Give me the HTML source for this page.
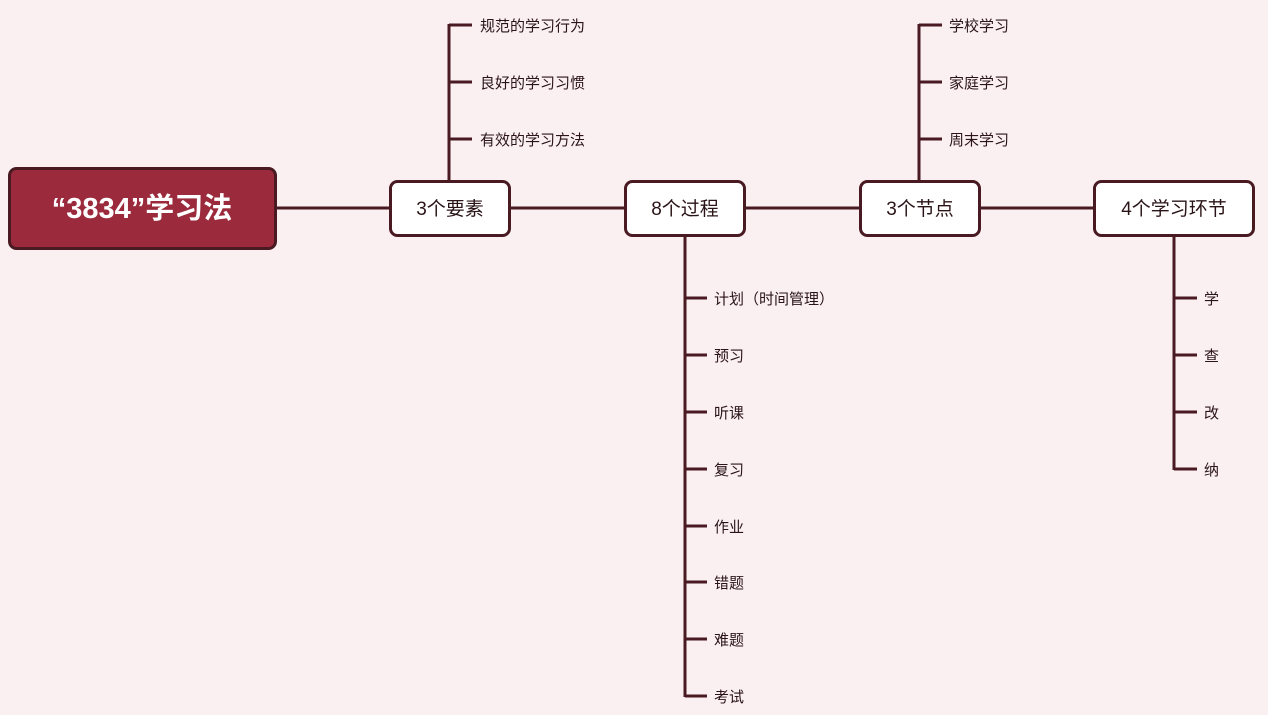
<!DOCTYPE html>
<html><head><meta charset="utf-8"><style>
html,body{margin:0;padding:0;background:#faf0f2;}
body{width:1268px;height:715px;position:relative;overflow:hidden;font-family:"Liberation Sans","Noto Sans CJK SC",sans-serif;}
svg{position:absolute;left:0;top:0}
text{font-family:"Liberation Sans","Noto Sans CJK SC",sans-serif;fill:#2a1418}
</style></head><body>
<svg width="1268" height="715" viewBox="0 0 1268 715">
<g stroke="#4a1a22" stroke-width="3" fill="none">
<line x1="276" y1="208" x2="1094" y2="208"/>
<!-- 3个要素 -->
<line x1="449" y1="24" x2="449" y2="181"/>
<line x1="449" y1="25" x2="472" y2="25"/>
<line x1="449" y1="82" x2="472" y2="82"/>
<line x1="449" y1="139" x2="472" y2="139"/>
<!-- 8个过程 -->
<line x1="685" y1="236" x2="685" y2="697"/>
<line x1="685" y1="298" x2="707" y2="298"/>
<line x1="685" y1="355" x2="707" y2="355"/>
<line x1="685" y1="412" x2="707" y2="412"/>
<line x1="685" y1="469" x2="707" y2="469"/>
<line x1="685" y1="526" x2="707" y2="526"/>
<line x1="685" y1="582" x2="707" y2="582"/>
<line x1="685" y1="639" x2="707" y2="639"/>
<line x1="685" y1="696" x2="707" y2="696"/>
<!-- 3个节点 -->
<line x1="919" y1="24" x2="919" y2="181"/>
<line x1="919" y1="25" x2="942" y2="25"/>
<line x1="919" y1="82" x2="942" y2="82"/>
<line x1="919" y1="139" x2="942" y2="139"/>
<!-- 4个学习环节 -->
<line x1="1174" y1="236" x2="1174" y2="470"/>
<line x1="1174" y1="298" x2="1197" y2="298"/>
<line x1="1174" y1="355" x2="1197" y2="355"/>
<line x1="1174" y1="412" x2="1197" y2="412"/>
<line x1="1174" y1="469" x2="1197" y2="469"/>
</g>
<rect x="9.5" y="168.5" width="266" height="80" rx="7" fill="#9b2a3c" stroke="#4a1a22" stroke-width="3"/>
<text x="142" y="218" text-anchor="middle" font-size="29" font-weight="bold" style="fill:#fff">“3834”学习法</text>
<g fill="#fff" stroke="#4a1a22" stroke-width="3">
<rect x="390.5" y="181.5" width="119" height="54" rx="7"/>
<rect x="625.5" y="181.5" width="119" height="54" rx="7"/>
<rect x="860.5" y="181.5" width="119" height="54" rx="7"/>
<rect x="1094.5" y="181.5" width="159" height="54" rx="7"/>
</g>
<g font-size="19" text-anchor="middle">
<text x="450" y="215">3个要素</text>
<text x="685" y="215">8个过程</text>
<text x="920" y="215">3个节点</text>
<text x="1174" y="215">4个学习环节</text>
</g>
<g font-size="15">
<text x="480" y="31">规范的学习行为</text>
<text x="480" y="88">良好的学习习惯</text>
<text x="480" y="145">有效的学习方法</text>
<text x="714" y="304">计划（时间管理）</text>
<text x="714" y="361">预习</text>
<text x="714" y="418">听课</text>
<text x="714" y="475">复习</text>
<text x="714" y="532">作业</text>
<text x="714" y="588">错题</text>
<text x="714" y="645">难题</text>
<text x="714" y="702">考试</text>
<text x="949" y="31">学校学习</text>
<text x="949" y="88">家庭学习</text>
<text x="949" y="145">周末学习</text>
<text x="1204" y="304">学</text>
<text x="1204" y="361">查</text>
<text x="1204" y="418">改</text>
<text x="1204" y="475">纳</text>
</g>
</svg>
</body></html>
